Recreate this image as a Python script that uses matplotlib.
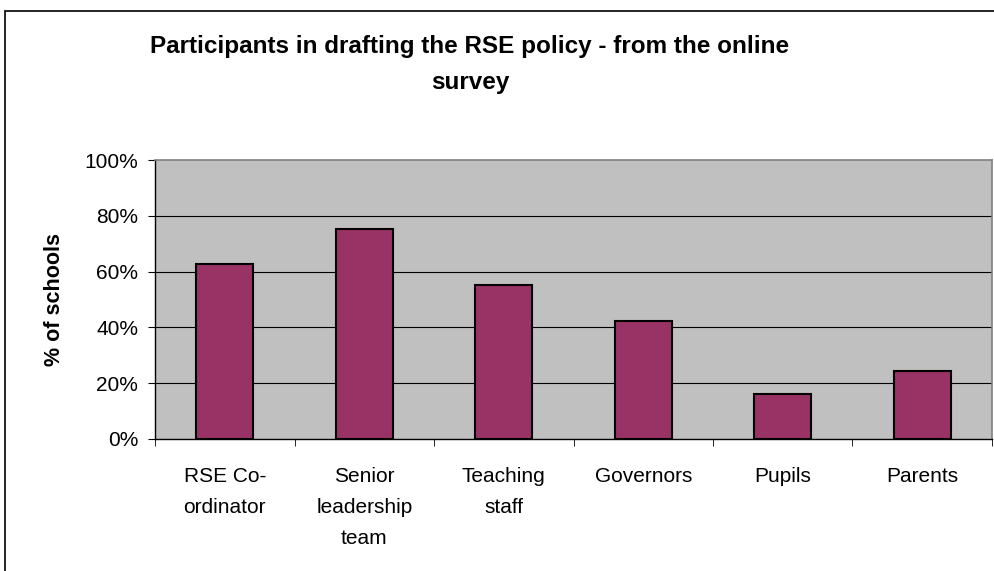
import matplotlib.pyplot as plt
from matplotlib.patches import Rectangle
from matplotlib.ticker import PercentFormatter, FixedLocator

plt.rcParams['font.family'] = ['Liberation Sans', 'DejaVu Sans']

# Data
categories = ['RSE Co-\nordinator', 'Senior\nleadership\nteam', 'Teaching\nstaff',
              'Governors', 'Pupils', 'Parents']
values = [62.6, 75.3, 55.2, 42.4, 16.2, 24.5]
y_ticks = [0, 20, 40, 60, 80, 100]

fig = plt.figure(figsize=(9.95, 5.71), dpi=100)

# outer chart frame (partially cropped in the original)
fig.patches.append(Rectangle((5 / 995, -0.1), 1.2, (571 - 11) / 571 + 0.1,
                             transform=fig.transFigure, fill=False,
                             edgecolor='black', linewidth=1.2))

ax = fig.add_axes([155 / 995, (571 - 439) / 571, 837 / 995, 279 / 571])
ax.set_facecolor('#C0C0C0')

x = range(len(categories))
ax.bar(x, values, width=0.41, color='#993366', edgecolor='black', linewidth=1.5, zorder=3)

ax.set_xlim(-0.5, len(categories) - 0.5)
ax.set_ylim(0, 100)
ax.set_yticks(y_ticks)
ax.yaxis.set_major_formatter(PercentFormatter(decimals=0))
for y in y_ticks[1:-1]:
    ax.axhline(y, color='black', linewidth=0.8, zorder=1)

ax.set_xticks(list(x))
ax.set_xticklabels(categories, fontsize=15, linespacing=1.8)
ax.tick_params(axis='x', which='major', length=0, pad=20)
ax.xaxis.set_minor_locator(FixedLocator([i + 0.5 for i in range(-1, len(categories))]))
ax.tick_params(axis='x', which='minor', length=5, direction='out', color='black')
ax.tick_params(axis='y', length=5, direction='out', labelsize=15, pad=7)

for s in ['top', 'right']:
    ax.spines[s].set_color('#808080')
    ax.spines[s].set_linewidth(1.2)
for s in ['left', 'bottom']:
    ax.spines[s].set_color('black')
    ax.spines[s].set_linewidth(1)

ax.set_ylabel('% of schools', fontsize=15.5, fontweight='bold', labelpad=14)

fig.text(470 / 995, 1 - 46 / 571, 'Participants in drafting the RSE policy - from the online',
         ha='center', va='center', fontsize=17.5, fontweight='bold')
fig.text(470 / 995, 1 - 82 / 571, 'survey', ha='center', va='center',
         fontsize=17.5, fontweight='bold')

fig.savefig('out.png', dpi=100)
